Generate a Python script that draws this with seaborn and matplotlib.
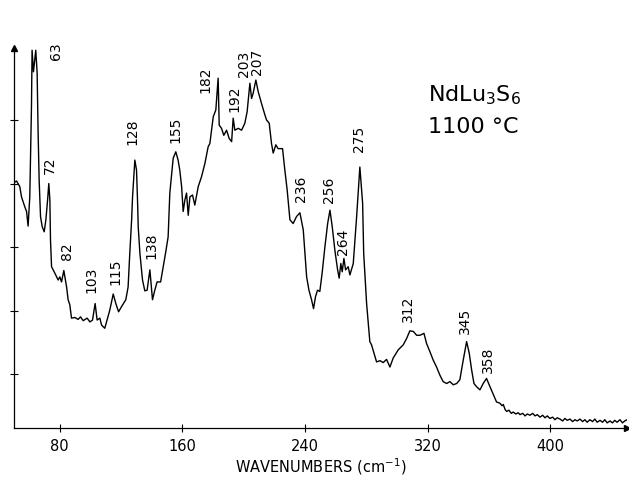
import matplotlib
matplotlib.use("Agg")
import matplotlib.pyplot as plt
import seaborn as sns
import pandas as pd

# ---- data ----
wavenumber = [
    50.0, 52.0, 54.1, 55.2, 57.4, 58.5, 59.5, 60.6, 61.7, 62.1, 63.0, 63.7, 64.5, 65.4, 66.0, 66.7,
    67.6, 68.7, 70.0, 71.1, 72.2, 73.0, 73.7, 74.1, 74.8, 76.9, 79.1, 80.2, 81.3, 82.8, 84.6, 85.6,
    86.7, 87.8, 90.0, 92.1, 93.7, 95.4, 98.0, 99.8, 101.5, 103.2, 104.5, 106.3, 107.4, 109.5, 111.0,
    112.8, 115.0, 116.7, 118.5, 120.4, 123.2, 124.7, 125.8, 127.0, 127.6, 129.1, 130.2, 130.9, 131.3,
    132.4, 134.1, 135.6, 137.1, 138.9, 140.6, 142.1, 143.6, 145.9, 147.6, 149.3, 150.8, 151.9, 154.1,
    155.8, 157.3, 158.4, 159.6, 160.6, 161.7, 162.8, 163.9, 165.0, 166.7, 168.2, 170.4, 172.6, 174.8,
    176.9, 178.0, 180.2, 181.9, 183.4, 184.1, 185.6, 187.1, 188.9, 190.6, 192.2, 193.2, 194.3, 196.5,
    198.7, 200.8, 202.3, 204.1, 205.2, 206.2, 208.0, 209.5, 211.7, 213.9, 215.0, 216.7, 218.2, 219.3,
    221.0, 222.5, 225.4, 226.9, 228.4, 230.2, 232.3, 234.5, 236.7, 238.9, 240.0, 241.1, 242.6, 244.3,
    245.6, 246.9, 248.2, 249.7, 251.2, 253.0, 254.8, 256.3, 257.8, 259.5, 261.3, 262.3, 263.4, 264.3,
    265.4, 266.5, 268.2, 269.3, 271.5, 273.7, 275.8, 277.6, 278.3, 280.2, 282.3, 283.4, 285.0, 286.7,
    288.9, 291.0, 293.2, 295.4, 297.5, 300.8, 304.1, 306.3, 308.4, 310.7, 312.8, 315.0, 317.6, 319.3,
    321.5, 323.6, 325.8, 328.0, 330.1, 332.4, 334.5, 336.7, 338.9, 341.0, 343.2, 345.4, 347.1, 348.7,
    350.2, 351.9, 354.1, 356.2, 358.4, 360.1, 362.4, 364.9, 367.1, 368.5, 369.3, 370.5, 371.5, 373.0,
    374.5, 375.8, 377.5, 379.0, 380.2, 382.0, 383.5, 385.0, 386.7, 388.5, 390.0, 391.5, 393.2, 395.0,
    396.5, 398.0, 399.7, 401.5, 403.0, 404.5, 406.3, 408.0, 409.5, 411.0, 412.8, 414.5, 416.0, 417.5,
    419.3, 421.0, 422.5, 424.0, 425.8, 427.5, 429.0, 430.5, 432.4, 434.0, 435.5, 437.0, 438.9, 440.5,
    442.0, 443.5, 445.4, 447.0, 448.5, 450.0,
]
intensity = [
    3.01, 3.04, 2.95, 2.79, 2.63, 2.56, 2.33, 2.79, 4.21, 5.10, 4.76, 4.92, 5.10, 4.74, 3.84, 3.06,
    2.48, 2.32, 2.24, 2.43, 2.74, 3.00, 2.74, 2.11, 1.69, 1.59, 1.48, 1.53, 1.45, 1.63, 1.37, 1.17,
    1.09, 0.88, 0.89, 0.86, 0.90, 0.84, 0.88, 0.82, 0.85, 1.11, 0.85, 0.88, 0.77, 0.72, 0.85,
    1.01, 1.26, 1.11, 0.98, 1.06, 1.17, 1.37, 1.90, 2.43, 2.79, 3.37, 3.21, 2.69, 2.32,
    1.90, 1.48, 1.31, 1.32, 1.64, 1.17, 1.32, 1.45, 1.45, 1.69, 1.93, 2.16, 2.85, 3.40,
    3.50, 3.37, 3.21, 2.95, 2.56, 2.74, 2.85, 2.50, 2.79, 2.82, 2.66, 2.95, 3.11, 3.32,
    3.58, 3.63, 4.05, 4.16, 4.66, 3.92, 3.87, 3.76, 3.84, 3.71, 3.66, 4.03, 3.84, 3.87,
    3.84, 3.95, 4.13, 4.58, 4.34, 4.42, 4.63, 4.45, 4.26, 4.08, 4.00, 3.95, 3.63, 3.48,
    3.61, 3.55, 3.55, 3.21, 2.90, 2.43, 2.37, 2.48, 2.54, 2.27, 1.90, 1.53, 1.32, 1.17,
    1.03, 1.22, 1.32, 1.30, 1.59, 2.00, 2.37, 2.58, 2.32, 1.95, 1.64, 1.51, 1.74, 1.61,
    1.82, 1.64, 1.69, 1.56, 1.74, 2.48, 3.26, 2.69, 1.90, 1.11, 0.51, 0.46, 0.33, 0.19,
    0.21, 0.18, 0.23, 0.11, 0.25, 0.38, 0.46, 0.56, 0.68, 0.67, 0.61, 0.61, 0.64, 0.48,
    0.35, 0.22, 0.11, -0.02, -0.12, -0.15, -0.12, -0.17, -0.15, -0.09, 0.22, 0.51, 0.33, 0.06,
    -0.15, -0.20, -0.25, -0.15, -0.07, -0.17, -0.30, -0.44, -0.46, -0.50, -0.48, -0.56, -0.59, -0.57,
    -0.62, -0.60, -0.63, -0.61, -0.64, -0.62, -0.66, -0.63, -0.65, -0.62, -0.66, -0.64, -0.68, -0.65,
    -0.69, -0.66, -0.70, -0.68, -0.72, -0.69, -0.71, -0.74, -0.70, -0.73, -0.71, -0.75, -0.72, -0.74,
    -0.71, -0.75, -0.72, -0.76, -0.72, -0.75, -0.71, -0.76, -0.73, -0.76, -0.72, -0.77, -0.74, -0.77,
    -0.73, -0.76, -0.72, -0.77, -0.74, -0.72,
]

peak_labels = ["63", "72", "82", "103", "115", "128", "138", "155", "182", "192",
               "203", "207", "236", "256", "264", "275", "312", "345", "358"]
label_x = [77.6, 73.7, 84.8, 101.1, 116.4, 127.8, 139.9, 155.8, 175.4, 194.3,
           200.3, 209.0, 237.7, 255.6, 264.7, 275.2, 307.1, 344.6, 359.0]
label_y = [5.09, 3.29, 1.94, 1.48, 1.61, 3.82, 2.02, 3.84, 4.64, 4.33,
           4.89, 4.91, 2.91, 2.90, 2.09, 3.71, 1.02, 0.84, 0.23]

x_ticks = [80, 160, 240, 320, 400]
y_ticks = [0, 1, 2, 3, 4]

df = pd.DataFrame({"wavenumber": wavenumber, "intensity": intensity})

sns.set_theme(style="white")
plt.rcParams["font.family"] = ["DejaVu Sans"]

fig = plt.figure(figsize=(6.29, 4.79), dpi=100)
ax = fig.add_axes([0.0215, 0.1075, 0.9754, 0.7916])

sns.lineplot(data=df, x="wavenumber", y="intensity", ax=ax, color="black",
             linewidth=1.0, estimator=None, sort=False)

ax.set_xlim(50, 450)
ax.set_ylim(-0.843, 5.13)

for s in ["top", "right"]:
    ax.spines[s].set_visible(False)
for s in ["left", "bottom"]:
    ax.spines[s].set_color("black")
    ax.spines[s].set_linewidth(0.9)

ax.set_xticks(x_ticks)
ax.set_yticks(y_ticks)
ax.set_yticklabels([])
ax.tick_params(axis="both", direction="inout", length=6, width=0.8, color="black",
               labelsize=10.5, labelcolor="black", pad=5)
ax.tick_params(axis="y", left=True)
ax.tick_params(axis="x", bottom=True)

# arrow heads on the axes
ax.plot(1, 0, marker=">", color="black", markersize=5, transform=ax.transAxes, clip_on=False)
ax.plot(0, 1, marker="^", color="black", markersize=5, transform=ax.transAxes, clip_on=False)

ax.set_xlabel("WAVENUMBERS (cm$^{-1}$)", fontsize=10.5, color="black", labelpad=2)
ax.set_ylabel("")

for t, x, y in zip(peak_labels, label_x, label_y):
    ax.text(x, y, t, rotation=90, ha="center", va="center", fontsize=10,
            color="black", clip_on=False)

ax.text(320.1, 4.39, "NdLu$_3$S$_6$", fontsize=16, ha="left", va="center", color="black")
ax.text(320.1, 3.89, "1100 °C", fontsize=16, ha="left", va="center", color="black")

ax.grid(False)
fig.savefig("out.png", dpi=100)
